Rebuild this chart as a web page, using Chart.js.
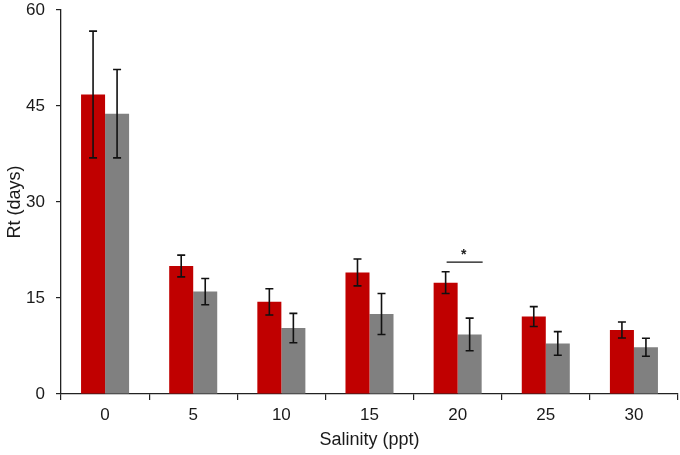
<!DOCTYPE html>
<html>
<head>
<meta charset="utf-8">
<script src="https://cdn.jsdelivr.net/npm/chart.js@4/dist/chart.umd.min.js"></script>
<style>
  html, body { margin: 0; padding: 0; background: #fff; }
  #wrap { width: 680px; height: 455px; }
</style>
</head>
<body>
<div id="wrap"><canvas id="chart"></canvas></div>
<script>
const salinity = ['0', '5', '10', '15', '20', '25', '30'];
const redMean = [46.8, 20.0, 14.4, 19.0, 17.4, 12.1, 10.0];
const redErr = [9.9, 1.7, 2.05, 2.1, 1.7, 1.55, 1.25];
const grayMean = [43.8, 16.0, 10.3, 12.5, 9.3, 7.9, 7.3];
const grayErr = [6.9, 2.05, 2.3, 3.2, 2.55, 1.85, 1.4];
const yTicks = [0, 15, 30, 45, 60];
const sigIndex = 4;      // '*' over the 20 ppt group
const sigLevel = 20.6;

const font = { family: '"Liberation Sans", Arial', size: 17 };

const errorBars = {
    id: 'errorBars',
    afterDatasetsDraw(chart) {
        const ctx = chart.ctx;
        const y = chart.scales.y;
        const errs = [redErr, grayErr];
        ctx.save();
        ctx.strokeStyle = '#111';
        ctx.lineWidth = 1.6;
        chart.data.datasets.forEach((ds, d) => {
            chart.getDatasetMeta(d).data.forEach((bar, i) => {
                const top = y.getPixelForValue(ds.data[i] + errs[d][i]);
                const bot = y.getPixelForValue(ds.data[i] - errs[d][i]);
                ctx.beginPath();
                ctx.moveTo(bar.x, top); ctx.lineTo(bar.x, bot);
                ctx.moveTo(bar.x - 4, top); ctx.lineTo(bar.x + 4, top);
                ctx.moveTo(bar.x - 4, bot); ctx.lineTo(bar.x + 4, bot);
                ctx.stroke();
            });
        });
        // significance line and star
        const a = chart.getDatasetMeta(0).data[sigIndex];
        const b = chart.getDatasetMeta(1).data[sigIndex];
        const ly = y.getPixelForValue(sigLevel);
        ctx.lineWidth = 1.4;
        ctx.beginPath();
        ctx.moveTo(a.x + 1, ly); ctx.lineTo(b.x + 13, ly);
        ctx.stroke();
        ctx.fillStyle = '#222';
        ctx.font = 'bold 14px "Liberation Sans", Arial';
        ctx.textAlign = 'center';
        ctx.fillText('*', (a.x + b.x) / 2 + 6, ly - 3);
        ctx.restore();
    }
};

new Chart(document.querySelector('#chart').getContext('2d'), {
    type: 'bar',
    data: {
        labels: salinity,
        datasets: [
            { label: 'A', data: redMean, backgroundColor: '#C00000' },
            { label: 'B', data: grayMean, backgroundColor: '#808080' }
        ]
    },
    options: {
        responsive: true,
        maintainAspectRatio: false,
        animation: false,
        layout: { padding: { top: 0, right: 2, left: 0, bottom: 0 } },
        datasets: { bar: { categoryPercentage: 0.545, barPercentage: 1 } },
        plugins: { legend: { display: false }, tooltip: { enabled: false } },
        scales: {
            x: {
                offset: true,
                grid: { offset: true, drawOnChartArea: false, tickLength: 6, color: '#222', lineWidth: 1.2 },
                border: { color: '#222', width: 1.3 },
                ticks: { color: '#1a1a1a', font: font, padding: 5 },
                title: { display: true, text: 'Salinity (ppt)', color: '#1a1a1a', font: { family: font.family, size: 18 }, padding: { top: 5 } },
                afterFit: s => { s.height = 61; }
            },
            y: {
                min: 0, max: 60,
                afterBuildTicks: s => { s.ticks = yTicks.map(v => ({ value: v })); },
                grid: { drawOnChartArea: false, tickLength: 5, color: '#222', lineWidth: 1.2 },
                border: { color: '#222', width: 1.3 },
                ticks: { color: '#1a1a1a', font: font, padding: 11 },
                title: { display: true, text: 'Rt (days)', color: '#1a1a1a', font: { family: font.family, size: 18 }, padding: { bottom: 0 } },
                afterFit: s => { s.width = 61; s.paddingTop = 10; s.paddingBottom = 0; }
            }
        }
    },
    plugins: [errorBars]
});
</script>
</body>
</html>
